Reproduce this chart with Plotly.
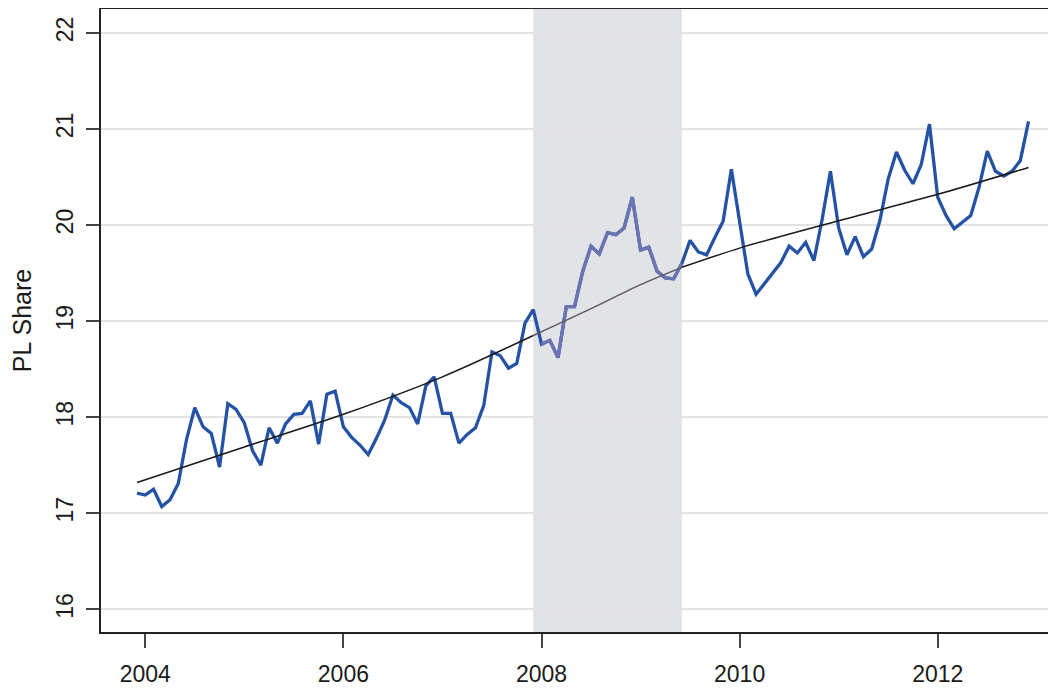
import plotly.graph_objects as go

# Monthly observations, Dec 2003 .. Dec 2012
start_year = 2003
start_month = 12
pl_share = [
    17.21,
    17.19, 17.25, 17.07, 17.14, 17.31, 17.77, 18.10, 17.90, 17.83, 17.48, 18.14, 18.08,
    17.94, 17.65, 17.50, 17.89, 17.73, 17.93, 18.03, 18.04, 18.17, 17.72, 18.24, 18.27,
    17.90, 17.79, 17.71, 17.61, 17.78, 17.97, 18.23, 18.15, 18.10, 17.93, 18.33, 18.42,
    18.04, 18.04, 17.73, 17.82, 17.89, 18.12, 18.68, 18.64, 18.51, 18.56, 18.98, 19.12,
    18.76, 18.80, 18.62, 19.15, 19.15, 19.52, 19.78, 19.70, 19.92, 19.90, 19.97, 20.29,
    19.74, 19.77, 19.52, 19.45, 19.44, 19.60, 19.84, 19.72, 19.69, 19.87, 20.04, 20.58,
    20.01, 19.49, 19.28, 19.39, 19.49, 19.61, 19.78, 19.71, 19.82, 19.63, 20.06, 20.56,
    19.97, 19.69, 19.88, 19.67, 19.75, 20.05, 20.48, 20.76, 20.57, 20.43, 20.63, 21.05,
    20.29, 20.10, 19.96, 20.03, 20.10, 20.39, 20.77, 20.56, 20.51, 20.56, 20.67, 21.08,
]

# Smooth trend knots (decimal year, value)
trend_t = [2003.917, 2005.0, 2006.0, 2007.0, 2007.917, 2008.5, 2009.0, 2009.417, 2010.0, 2011.0, 2012.0, 2012.917]
trend_v = [17.32, 17.69, 18.03, 18.42, 18.85, 19.13, 19.38, 19.56, 19.76, 20.045, 20.32, 20.60]

# Recession shading (Dec 2007 - Jun 2009)
rec_start = 2007.917
rec_end = 2009.417

x_ticks = [2004, 2006, 2008, 2010, 2012]
y_ticks = [16, 17, 18, 19, 20, 21, 22]

# decimal-year time axis for the months
t = []
y, m = start_year, start_month
for _ in pl_share:
    t.append(y + (m - 1) / 12.0)
    m += 1
    if m > 12:
        m = 1
        y += 1

eps = 1e-6
rec_t = [a for a in t if rec_start - eps <= a <= rec_end + eps]
rec_v = [v for a, v in zip(t, pl_share) if rec_start - eps <= a <= rec_end + eps]

tr_before = [(a, v) for a, v in zip(trend_t, trend_v) if a <= rec_start + eps]
tr_rec = [(a, v) for a, v in zip(trend_t, trend_v) if rec_start - eps <= a <= rec_end + eps]
tr_after = [(a, v) for a, v in zip(trend_t, trend_v) if a >= rec_end - eps]

BLUE = "#2452a4"
BLUE_REC = "#6c74b2"
FONT = "Liberation Sans, Arial, Helvetica, sans-serif"
TXT = "#1a1a1a"

fig = go.Figure()
fig.add_shape(type="rect", xref="x", yref="paper", x0=rec_start, x1=rec_end, y0=0, y1=1,
              fillcolor="rgba(150,154,164,0.28)", line_width=0, layer="between")

fig.add_trace(go.Scatter(x=t, y=pl_share, mode="lines", line=dict(color=BLUE, width=3.3),
                         showlegend=False, hoverinfo="skip"))
fig.add_trace(go.Scatter(x=rec_t, y=rec_v, mode="lines", line=dict(color=BLUE_REC, width=3.3),
                         showlegend=False, hoverinfo="skip"))
for seg, col in [(tr_before, "#1a1a1a"), (tr_rec, "#5a5a5e"), (tr_after, "#1a1a1a")]:
    fig.add_trace(go.Scatter(x=[p[0] for p in seg], y=[p[1] for p in seg], mode="lines",
                             line=dict(color=col, width=1.5, shape="spline", smoothing=0.8),
                             showlegend=False, hoverinfo="skip"))

fig.update_layout(
    width=1048, height=682,
    margin=dict(l=93, r=0, t=1, b=58, autoexpand=False),
    paper_bgcolor="white", plot_bgcolor="white",
    font=dict(family=FONT, color=TXT, size=23),
)
fig.update_xaxes(
    range=[2003.553, 2013.194], tickvals=x_ticks, ticktext=[str(v) for v in x_ticks],
    showgrid=False, zeroline=False, showline=True, linecolor="#222", linewidth=1.5,
    mirror=True, ticks="outside", ticklen=14, tickwidth=1.5, tickcolor="#444",
    ticklabelstandoff=7, tickfont=dict(size=23, color=TXT),
)
fig.update_yaxes(
    range=[15.764, 22.249], tickvals=y_ticks, ticktext=[str(v) for v in y_ticks],
    showgrid=True, gridcolor="#e3e3e3", gridwidth=1.5, zeroline=False,
    showline=True, linecolor="#222", linewidth=1.5, mirror=False,
    ticks="outside", ticklen=13, tickwidth=1.5, tickcolor="#444",
    tickangle=-90, ticklabelstandoff=4, tickfont=dict(size=23, color=TXT),
    title=dict(text="PL Share", font=dict(size=25, color=TXT), standoff=14),
)

fig.write_html("out.html")
